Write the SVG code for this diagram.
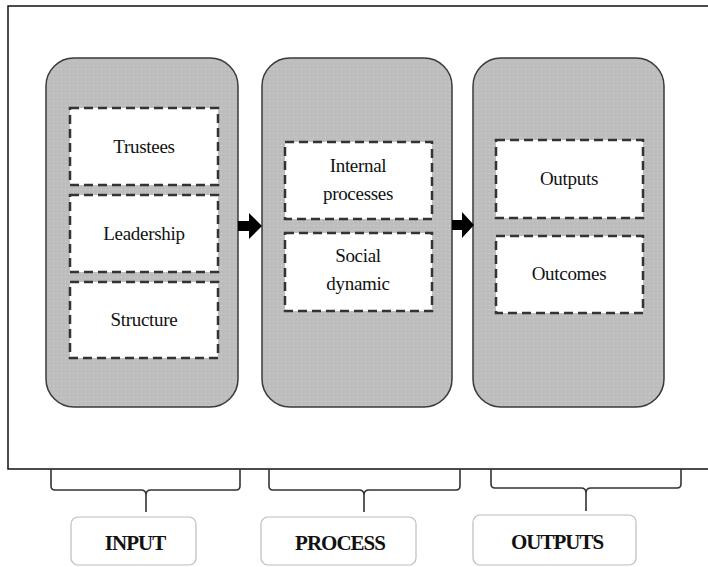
<svg xmlns="http://www.w3.org/2000/svg" width="708" height="567" viewBox="0 0 708 567">
<defs>
<pattern id="dots" width="4" height="4" patternUnits="userSpaceOnUse">
<rect width="4" height="4" fill="#bdbdbd"/>
<rect x="1" y="1" width="1" height="1" fill="#d2d2d2"/>
</pattern>
<style>
.panel{fill:url(#dots);stroke:#3a3a3a;stroke-width:1.5}
.box{fill:#fff;stroke:#333;stroke-width:2.5;stroke-dasharray:9 5}
.t{font-family:'Liberation Serif','DejaVu Serif',serif;font-size:19px;text-anchor:middle;fill:#111;letter-spacing:-0.3px}
.lbl{fill:#fff;stroke:#bdbdbd;stroke-width:1.2}
.b{font-family:'Liberation Serif','DejaVu Serif',serif;font-size:21px;font-weight:bold;text-anchor:middle;fill:#111;letter-spacing:-1px}
.br{fill:none;stroke:#333;stroke-width:1.6}
</style>
</defs>
<rect width="708" height="567" fill="#fff"/>
<rect id="frame" x="8" y="6" width="704" height="463" fill="#fff" stroke="#111" stroke-width="1.5"/>

<g id="input-panel">
<rect class="panel" x="46" y="58" width="192" height="349" rx="28"/>
<g id="trustees"><rect class="box" x="70" y="108" width="148" height="77"/><text class="t" x="144" y="153">Trustees</text></g>
<g id="leadership"><rect class="box" x="70" y="195" width="148" height="77"/><text class="t" x="144" y="240">Leadership</text></g>
<g id="structure"><rect class="box" x="70" y="282" width="148" height="76"/><text class="t" x="144" y="326">Structure</text></g>
</g>

<g id="process-panel">
<rect class="panel" x="262" y="58" width="190" height="349" rx="28"/>
<g id="internal"><rect class="box" x="285" y="142" width="147" height="77"/><text class="t" x="358" y="172">Internal</text><text class="t" x="358" y="200">processes</text></g>
<g id="social"><rect class="box" x="285" y="233" width="147" height="78"/><text class="t" x="358" y="262">Social</text><text class="t" x="358" y="290">dynamic</text></g>
</g>

<g id="outputs-panel">
<rect class="panel" x="473" y="58" width="191" height="349" rx="28"/>
<g id="outputs"><rect class="box" x="496" y="140" width="147" height="78"/><text class="t" x="569" y="185">Outputs</text></g>
<g id="outcomes"><rect class="box" x="496" y="236" width="147" height="77"/><text class="t" x="569" y="280">Outcomes</text></g>
</g>

<g id="connectors">
<path d="M238,221 H249 V213 L262,226 L249,239 V231 H238 Z" fill="#000"/>
<path d="M452,220 H462 V212 L474,225 L462,238 V230 H452 Z" fill="#000"/>
<path class="br" d="M51,469 V486 Q51,490 55,490 H141 Q146,490 146,495 V512 M146,495 Q146,490 151,490 H236 Q240,490 240,486 V469"/>
<path class="br" d="M269,469 V486 Q269,490 273,490 H359 Q364,490 364,495 V512 M364,495 Q364,490 369,490 H456 Q460,490 460,486 V469"/>
<path class="br" d="M491,469 V484 Q491,488 495,488 H581 Q586,488 586,493 V511 M586,493 Q586,488 591,488 H677 Q681,488 681,484 V469"/>
</g>

<g id="label-input"><rect class="lbl" x="71" y="517" width="125" height="48" rx="7"/><text class="b" x="135" y="550">INPUT</text></g>
<g id="label-process"><rect class="lbl" x="261" y="517" width="155" height="48" rx="7"/><text class="b" x="340" y="550">PROCESS</text></g>
<g id="label-outputs"><rect class="lbl" x="473" y="515" width="163" height="50" rx="7"/><text class="b" x="557" y="549">OUTPUTS</text></g>
</svg>
